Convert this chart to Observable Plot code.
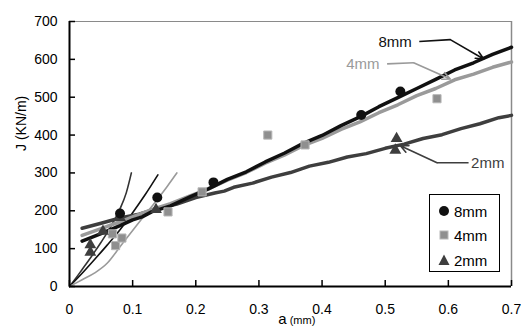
<!DOCTYPE html>
<html><head><meta charset="utf-8">
<script src="https://cdn.jsdelivr.net/npm/d3@7"></script>
<script src="https://cdn.jsdelivr.net/npm/@observablehq/plot@0.6"></script>
<style>
body{margin:0;background:#fff;}
#wrap{position:relative;width:521px;height:327px;overflow:hidden;font-family:"Liberation Sans",Arial,sans-serif;}
#legend{position:absolute;left:429px;top:194px;width:71px;height:78px;border:1.5px solid #000;background:#fff;box-sizing:border-box;}
.row{position:absolute;left:8px;height:20px;display:flex;align-items:center;font-size:15px;color:#000;}
.row svg{margin-right:4px;}
</style>
</head><body>
<div id="wrap"></div>
<script>
// ---- data ----
const xTicks = [0, 0.1, 0.2, 0.3, 0.4, 0.5, 0.6, 0.7];
const yTicks = [0, 100, 200, 300, 400, 500, 600, 700];
const seriesNames = ["8mm", "4mm", "2mm"];

// thick (fitted) lines  [a (mm), J (KN/m)]
const line8mm = [[0.02,120],[0.05,140],[0.08,161],[0.10,176],[0.115,184],[0.13,197],[0.16,213],[0.19,236],[0.22,258],[0.25,283],[0.28,303],[0.31,329],[0.34,352],[0.37,378],[0.40,399],[0.43,425],[0.46,448],[0.49,475],[0.52,499],[0.55,523],[0.58,547],[0.61,572],[0.64,591],[0.67,613],[0.70,632]];
const line4mm = [[0.02,135],[0.05,153],[0.08,171],[0.10,184],[0.13,203],[0.16,219],[0.19,239],[0.22,258],[0.25,281],[0.28,301],[0.31,326],[0.34,347],[0.37,372],[0.40,391],[0.43,415],[0.46,435],[0.49,459],[0.52,480],[0.55,504],[0.58,523],[0.61,546],[0.64,561],[0.67,579],[0.70,593]];
const line2mm = [[0.02,154],[0.05,167],[0.08,181],[0.11,191],[0.14,206],[0.17,218],[0.20,235],[0.23,247],[0.245,252],[0.26,262],[0.29,273],[0.32,289],[0.35,301],[0.38,318],[0.41,328],[0.44,342],[0.47,351],[0.50,365],[0.53,376],[0.56,391],[0.59,401],[0.62,417],[0.65,430],[0.68,446],[0.70,452]];

// thin curves from origin
const curveA = [[0,0],[0.01,22],[0.02,45],[0.03,68],[0.04,92],[0.05,117],[0.06,143],[0.07,172],[0.08,205],[0.09,248],[0.098,300]];
const curveB = [[0,0],[0.02,35],[0.04,72],[0.06,110],[0.08,150],[0.10,195],[0.12,243],[0.14,295]];
const curveC = [[0,0],[0.02,18],[0.04,36],[0.06,62],[0.08,105],[0.10,148],[0.12,190],[0.14,232],[0.155,265],[0.17,300]];

// experimental points
const pts8mm = [[0.080,193],[0.139,235],[0.228,275],[0.462,453],[0.524,515]];
const pts4mm = [[0.068,139],[0.073,108],[0.083,128],[0.156,197],[0.210,250],[0.314,400],[0.373,374],[0.582,496]];
const pts2mm = [[0.033,110],[0.033,90],[0.053,146],[0.080,182],[0.137,203],[0.518,391],[0.516,360]];

// annotations: label, text anchor point, bend points, arrow tip
const annotLabels = ["8mm", "4mm", "2mm"];
const annotText = [[0.542,646],[0.491,588],[0.636,326]];
const annotStart = [[0.554,647],[0.503,588],[0.632,327]];
const annotBend = [[0.603,652],[0.545,591],[0.582,327]];
const annotTip = [[0.656,601],[0.603,548],[0.524,372]];
const annotAnchor = ["end", "end", "start"];

// ---- styles ----
const colors = {"8mm": "#111111", "4mm": "#9a9a9a", "2mm": "#3e3e3e"};
const toRows = arr => arr.map(([a, J]) => ({a, J}));

const annot = annotLabels.map((label, i) => ({
  label, anchor: annotAnchor[i],
  tx: annotText[i][0], ty: annotText[i][1],
  x1: annotStart[i][0], y1: annotStart[i][1],
  x2: annotBend[i][0], y2: annotBend[i][1],
  x3: annotTip[i][0], y3: annotTip[i][1]
}));

const chart = Plot.plot({
  width: 521, height: 327,
  marginLeft: 69, marginRight: 10, marginTop: 21, marginBottom: 41,
  x: {domain: [0, 0.7]},
  y: {domain: [0, 700]},
  style: {fontFamily: '"Liberation Sans", Arial, sans-serif', fontSize: "14px", color: "#000", background: "#fff", overflow: "visible"},
  marks: [
    Plot.ruleY([700], {stroke: "#8a8a8a", strokeWidth: 1.2}),
    Plot.ruleX([0.7], {stroke: "#8a8a8a", strokeWidth: 1.5}),
    // thin curves
    Plot.line(toRows(curveA), {x: "a", y: "J", stroke: "#333", strokeWidth: 1.6, curve: "monotone-x"}),
    Plot.line(toRows(curveB), {x: "a", y: "J", stroke: "#111", strokeWidth: 1.6, curve: "monotone-x"}),
    Plot.line(toRows(curveC), {x: "a", y: "J", stroke: "#9a9a9a", strokeWidth: 1.6, curve: "monotone-x"}),
    // thick lines
    Plot.line(toRows(line2mm), {x: "a", y: "J", stroke: colors["2mm"], strokeWidth: 3.5, strokeLinejoin: "round"}),
    Plot.line(toRows(line4mm), {x: "a", y: "J", stroke: colors["4mm"], strokeWidth: 3.5, strokeLinejoin: "round"}),
    Plot.line(toRows(line8mm), {x: "a", y: "J", stroke: colors["8mm"], strokeWidth: 3.5, strokeLinejoin: "round"}),
    // points
    Plot.dot(toRows(pts4mm), {x: "a", y: "J", symbol: "square", r: 4.6, fill: "#8f8f8f", stroke: "#b8b8b8", strokeWidth: 1}),
    Plot.dot(toRows(pts2mm), {x: "a", y: "J", symbol: "triangle", r: 4.4, fill: colors["2mm"], stroke: "none"}),
    Plot.dot(toRows(pts8mm), {x: "a", y: "J", symbol: "circle", r: 5, fill: colors["8mm"], stroke: "none"}),
    // annotations
    Plot.link(annot, {x1: "x1", y1: "y1", x2: "x2", y2: "y2", stroke: d => colors[d.label], strokeWidth: 1.6}),
    Plot.arrow(annot, {x1: "x2", y1: "y2", x2: "x3", y2: "y3", stroke: d => colors[d.label], strokeWidth: 1.6, headLength: 8, headAngle: 50}),
    Plot.text(annot.filter(d => d.anchor === "end"), {x: "tx", y: "ty", text: "label", textAnchor: "end", fill: d => colors[d.label], fontSize: 15}),
    Plot.text(annot.filter(d => d.anchor === "start"), {x: "tx", y: "ty", text: "label", textAnchor: "start", fill: d => colors[d.label], fontSize: 15}),
    // axes
    Plot.axisX(xTicks, {tickSize: -6, tickPadding: 24, label: null, tickFormat: d => String(d), strokeWidth: 1.5}),
    Plot.axisY(yTicks, {tickSize: -6, tickPadding: 18, label: null, tickFormat: d => String(d), strokeWidth: 1.5}),
    Plot.ruleX([0], {stroke: "#000", strokeWidth: 2}),
    Plot.ruleY([0], {stroke: "#000", strokeWidth: 2}),
    // axis titles
    Plot.text(["J (KN/m)"], {frameAnchor: "left", dx: -48, dy: -3, rotate: -90, fontSize: 14}),
    Plot.text(["a"], {frameAnchor: "bottom", dx: -8, dy: 37, lineAnchor: "bottom", fontSize: 15}),
    Plot.text(["(mm)"], {frameAnchor: "bottom", dx: 12, dy: 37, lineAnchor: "bottom", fontSize: 11, letterSpacing: "-0.8px"})
  ]
});
document.getElementById("wrap").appendChild(chart);

// legend
const legend = document.createElement("div");
legend.id = "legend";
const symbols = {
  "8mm": '<circle cx="6" cy="6" r="5" fill="#111"/>',
  "4mm": '<rect x="2" y="2" width="8" height="8" fill="#8f8f8f" stroke="#b8b8b8" stroke-width="1"/>',
  "2mm": '<path d="M6,0.5 L11.5,11 L0.5,11 Z" fill="#3e3e3e"/>'
};
const rowTops = [6, 30, 55];
seriesNames.forEach((name, i) => {
  const row = document.createElement("div");
  row.className = "row";
  row.style.top = rowTops[i] + "px";
  row.innerHTML = `<svg width="12" height="12">${symbols[name]}</svg><span>${name}</span>`;
  legend.appendChild(row);
});
document.getElementById("wrap").appendChild(legend);
</script>
</body></html>
